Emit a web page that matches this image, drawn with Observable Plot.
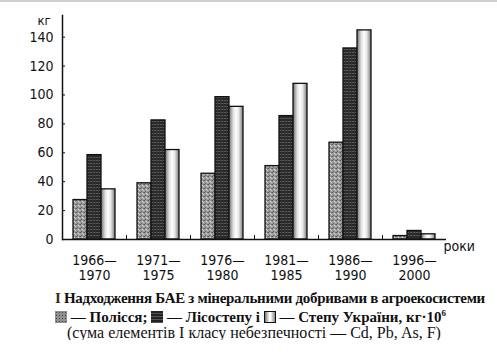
<!DOCTYPE html>
<html><head><meta charset="utf-8">
<script src="https://cdn.jsdelivr.net/npm/d3@7"></script>
<script src="https://cdn.jsdelivr.net/npm/@observablehq/plot@0.6"></script>
<style>
body{margin:0;background:#fff;}
#topline{position:fixed;top:0;left:0;right:0;height:2px;background:#d0d0d0;}
#chart{height:285px;}
#cap{font-family:"Liberation Serif","Times New Roman",serif;font-size:15px;color:#111;padding-left:55px;margin-top:4px;}
#cap .l1{font-weight:bold;white-space:nowrap;line-height:19px;letter-spacing:-0.3px;}
#cap .l2{font-weight:bold;white-space:nowrap;line-height:18px;}
#cap .l3{padding-left:12px;white-space:nowrap;font-size:16px;line-height:14px;}
.mark{color:#3b2b1c;font-weight:bold;}
.sw{display:inline-block;width:12px;height:12px;vertical-align:-1px;}
.sw.pol{background-color:#8f8f8f;background-image:radial-gradient(#444 0.6px,transparent 1px);background-size:3px 3px;}
.sw.lis{background:repeating-linear-gradient(180deg,#222 0 2px,#555 2px 3px);}
.sw.st{box-sizing:border-box;border:1.5px solid #111;background:linear-gradient(90deg,#777,#fff 45%,#fff 55%,#888);}
sup{font-size:9px;vertical-align:6px;line-height:0;}
</style></head><body>
<div id="topline"></div>
<div id="chart"></div>
<div id="cap">
<div class="l1"><span class="mark">I</span> Надходження БАЕ з мінеральними добривами в агроекосистеми</div>
<div class="l2"><span class="sw pol"></span> — Полісся; <span class="sw lis"></span> — Лісостепу і <span class="sw st"></span> — Степу України, кг·10<sup>6</sup></div>
<div class="l3">(сума елементів I класу небезпечності — Cd, Pb, As, F)</div>
</div>
<script>
const periods = ["1966—\n1970","1971—\n1975","1976—\n1980","1981—\n1985","1986—\n1990","1996—\n2000"];
const regions = ["Полісся","Лісостеп","Степ"];
const polissya = [27.3, 38.9, 45.5, 50.8, 67.0, 2.4];
const lisostep = [58.4, 82.4, 98.5, 85.4, 132.2, 5.9];
const step     = [34.7, 61.9, 91.8, 107.7, 144.7, 3.6];
const yTicks = [0,20,40,60,80,100,120,140];
const yUnit = "кг";
const xUnit = "роки";

const data = periods.flatMap((p,i)=>[
  {period:p, region:regions[0], value:polissya[i]},
  {period:p, region:regions[1], value:lisostep[i]},
  {period:p, region:regions[2], value:step[i]}
]);

const font = '"Liberation Sans Narrow","Arial Narrow","DejaVu Sans Condensed",sans-serif';
const chart = Plot.plot({
  width:497, height:285,
  marginLeft:62, marginRight:51, marginTop:15, marginBottom:46,
  style:{fontFamily:font, fontSize:"14px", color:"#111", background:"transparent"},
  fx:{domain:periods, paddingInner:0, paddingOuter:0, label:null, axis:null},
  x:{domain:regions, paddingInner:0, paddingOuter:0.68, axis:null},
  y:{domain:[0,155], axis:null},
  color:{domain:regions, range:["url(#pPol)","url(#pLis)","url(#gStep)"]},
  marks:[
    Plot.barY(data,{fx:"period", x:"region", y:"value", fill:"region", stroke:"#111", strokeWidth:1.3}),
    Plot.ruleY([0],{stroke:"#111", strokeWidth:1.5}),
    Plot.frame({anchor:"left", stroke:"#111", strokeWidth:1.5, facetAnchor:"left"}),
    Plot.frame({anchor:"left", stroke:"#111", strokeWidth:1, insetTop:220}),
    Plot.axisY({ticks:yTicks, tickSize:-3, tickPadding:12, label:null, fontSize:14}),
    Plot.axisFx({anchor:"bottom", tickSize:0, tickPadding:14, label:null, lineHeight:1.12, fontSize:14}),
    Plot.text([yUnit],{text:d=>d, frameAnchor:"top-left", dx:-25, dy:0, fontSize:13, facetAnchor:"left"}),
    Plot.text([xUnit],{text:d=>d, frameAnchor:"bottom-right", textAnchor:"start", dx:-3, dy:11, fontSize:14, facetAnchor:"right"})
  ]
});

const defs = `
<defs>
 <pattern id="pPol" width="4" height="4" patternUnits="userSpaceOnUse">
  <rect width="4" height="4" fill="#9c9c9c"/>
  <rect x="0" y="0" width="1" height="1" fill="#555"/>
  <rect x="2" y="1" width="1" height="1" fill="#d8d8d8"/>
  <rect x="1" y="3" width="1" height="1" fill="#666"/>
  <rect x="3" y="2" width="1" height="1" fill="#c8c8c8"/>
  <rect x="3" y="0" width="1" height="1" fill="#777"/>
 </pattern>
 <pattern id="pLis" width="3" height="3" patternUnits="userSpaceOnUse">
  <rect width="3" height="3" fill="#262626"/>
  <rect y="1" width="3" height="1" fill="#5c5c5c"/>
  <rect x="2" width="1" height="3" fill="#333"/>
 </pattern>
 <linearGradient id="gStep" x1="0" x2="1" y1="0" y2="0">
  <stop offset="0" stop-color="#6e6e6e"/>
  <stop offset="0.3" stop-color="#e0e0e0"/>
  <stop offset="0.5" stop-color="#ffffff"/>
  <stop offset="0.7" stop-color="#e6e6e6"/>
  <stop offset="1" stop-color="#7a7a7a"/>
 </linearGradient>
</defs>`;
chart.insertAdjacentHTML("afterbegin", defs);
document.getElementById("chart").appendChild(chart);
</script>
</body></html>
